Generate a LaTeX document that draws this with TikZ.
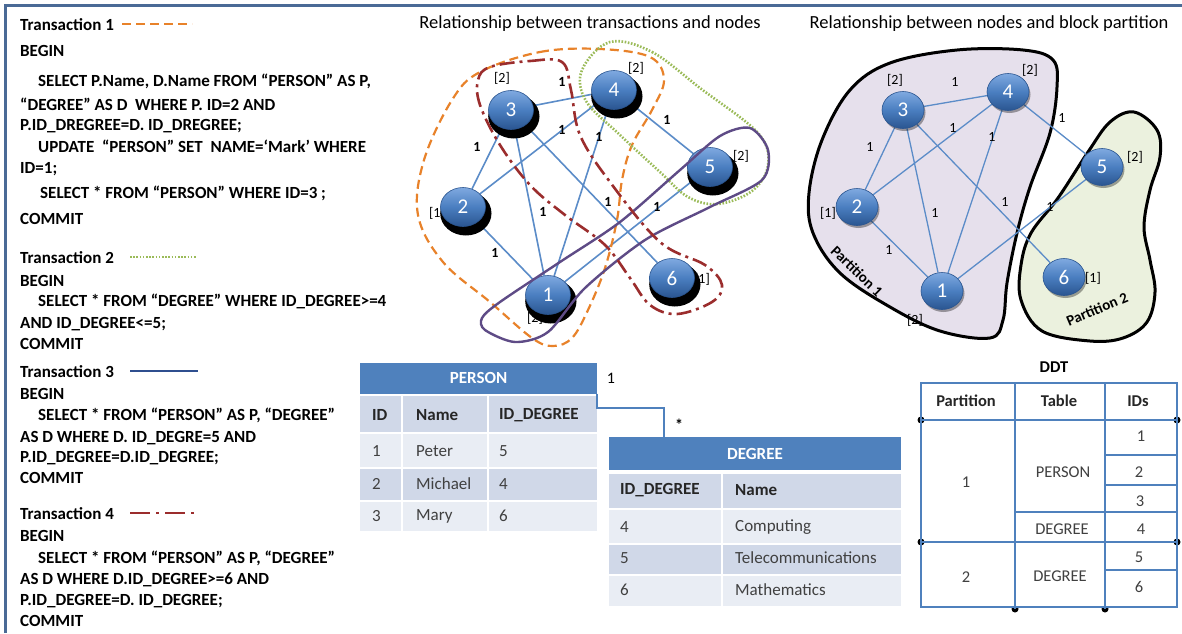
\documentclass[tikz,border=0pt]{standalone}
\usepackage{fontspec}
\setmainfont{Carlito}
\usetikzlibrary{shapes.geometric,shadows}
\definecolor{frameblue}{HTML}{4A6A96}
\definecolor{edgeblue}{HTML}{5B8CC8}
\definecolor{hdrblue}{HTML}{4F81BD}
\definecolor{rowdark}{HTML}{D0D8E8}
\definecolor{rowlight}{HTML}{E9EDF4}
\definecolor{tone}{HTML}{E8822A}
\definecolor{ttwo}{HTML}{9BBB59}
\definecolor{tthree}{HTML}{5E4B86}
\definecolor{tthreeleg}{HTML}{2F4F8F}
\definecolor{tfour}{HTML}{9B2D2D}
\definecolor{pone}{HTML}{E6E0EC}
\definecolor{ptwo}{HTML}{EBF1DE}
\definecolor{ntop}{HTML}{7FA9E0}
\definecolor{nmid}{HTML}{4A7EC0}
\definecolor{nbot}{HTML}{2A5590}
\definecolor{txtgray}{HTML}{404040}
\pgfdeclarelayer{paper}
\pgfdeclarelayer{blob}
\pgfdeclarelayer{bg}
\pgfsetlayers{paper,blob,bg,main}
\newcommand\txl[4]{\node[tx] (#1) at (#2,#3+6) {#4};}
\begin{document}
\begin{tikzpicture}[x=1pt,y=-1pt,
  tx/.style={anchor=base west, inner sep=0, font=\fontsize{17}{20}\selectfont\bfseries},
  titlestyle/.style={inner sep=0, font=\fontsize{18.5}{22}\selectfont},
  nodebase/.style={ellipse, inner sep=0, minimum width=45, minimum height=39, top color=ntop, bottom color=nbot, middle color=nmid, draw=nbot, line width=0.6, text=white, font=\fontsize{21}{21}\selectfont},
  ga/.style={nodebase, drop shadow={fill=black, opacity=1, shadow xshift=2.5pt, shadow yshift=-5.5pt, shadow scale=1.14}},
  gb/.style={nodebase, minimum width=42, minimum height=37, drop shadow={fill=black, opacity=0.35, shadow xshift=1.5pt, shadow yshift=-2.5pt}},
  edge/.style={edgeblue, line width=1.6},
  wlab/.style={inner sep=0, font=\fontsize{14}{14}\selectfont\bfseries},
  blab/.style={inner sep=0, font=\fontsize{14}{14}\selectfont},
  hullone/.style={tone, line width=2.2, dash pattern=on 9pt off 5pt},
  hulltwo/.style={ttwo, line width=2.6, dash pattern=on 1.6pt off 1.6pt},
  hullthree/.style={tthree, line width=2.4},
  hullfour/.style={tfour, line width=2.6, dash pattern=on 15pt off 5pt on 3pt off 5pt},
  hdr/.style={fill=hdrblue, text=white, inner sep=0, font=\fontsize{17}{20}\selectfont\bfseries},
  cell/.style={anchor=west, inner sep=0, text=txtgray, font=\fontsize{17}{20}\selectfont},
  cellb/.style={cell, text=black!85, font=\fontsize{17}{20}\selectfont\bfseries},
  ddt/.style={hdrblue, line width=2.6},
  ddtthin/.style={hdrblue, line width=2},
  dcell/.style={inner sep=0, text=txtgray, font=\fontsize{16.5}{20}\selectfont},
  dhead/.style={inner sep=0, text=black!85, font=\fontsize{16.5}{20}\selectfont\bfseries},
  conn/.style={hdrblue, line width=2},
  plab/.style={inner sep=0, font=\fontsize{15}{18}\selectfont\bfseries}
]
\useasboundingbox (0,0) rectangle (1182,633);
\begin{pgfonlayer}{paper}
\fill[white] (0,0) rectangle (1182,633);
\end{pgfonlayer}
\draw[frameblue, line width=3] (5,633) -- (5,5) -- (1182,5);

% ---------------- left text ----------------
\txl{t1}{20}{24}{Transaction 1}
\txl{t1a}{20}{50}{BEGIN}
\txl{t1b}{38}{80}{SELECT P.Name, D.Name FROM “PERSON” AS P,}
\txl{t1c}{20}{104}{“DEGREE” AS D\ \ WHERE P. ID=2 AND}
\txl{t1d}{20}{124}{P.ID\_DREGREE=D. ID\_DREGREE;}
\txl{t1e}{38}{146}{UPDATE\ \ “PERSON” SET\ \ NAME=‘Mark’ WHERE}
\txl{t1f}{20}{167}{ID=1;}
\txl{t1g}{40}{192}{SELECT * FROM “PERSON” WHERE ID=3 ;}
\txl{t1h}{20}{218}{COMMIT}
\txl{t2}{20}{257}{Transaction 2}
\txl{t2a}{20}{280}{BEGIN}
\txl{t2b}{38}{300}{SELECT * FROM “DEGREE” WHERE ID\_DEGREE>=4}
\txl{t2c}{20}{322}{AND ID\_DEGREE<=5;}
\txl{t2d}{20}{343}{COMMIT}
\txl{t3}{20}{371}{Transaction 3}
\txl{t3a}{20}{393}{BEGIN}
\txl{t3b}{38}{414}{SELECT * FROM “PERSON” AS P, “DEGREE”}
\txl{t3c}{20}{436}{AS D WHERE D. ID\_DEGRE=5 AND}
\txl{t3d}{20}{456}{P.ID\_DEGREE=D.ID\_DEGREE;}
\txl{t3e}{20}{477}{COMMIT}
\txl{t4}{20}{513}{Transaction 4}
\txl{t4a}{20}{535}{BEGIN}
\txl{t4b}{38}{557}{SELECT * FROM “PERSON” AS P, “DEGREE”}
\txl{t4c}{20}{578}{AS D WHERE D.ID\_DEGREE>=6 AND}
\txl{t4d}{20}{599}{P.ID\_DEGREE=D. ID\_DEGREE;}
\txl{t4e}{20}{620}{COMMIT}
\draw[hullone] (122,24) -- (192,24);
\draw[hulltwo, line width=1.6] (130,257) -- (196,257);
\draw[tthreeleg, line width=2] (130,371) -- (198,371);
\draw[hullfour, line width=2, dash pattern=on 20pt off 6pt on 3pt off 6pt] (130,513) -- (196,513);

% ---------------- titles ----------------
\node[titlestyle] (ttl1) at (590,24) {Relationship between\ transactions and nodes};
\node[titlestyle] (ttl2) at (989,24) {Relationship between nodes and block partition};

% ---------------- graph 1 ----------------
\node[blab] (q3) at (502,78) {[2]};
\node[blab] (q4) at (636,68) {[2]};
\node[blab] (q5) at (741,156) {[2]};
\node[blab] (q2) at (437,213) {[1]};
\node[blab] (q1) at (535,318) {[2]};
\node[blab] (q6) at (702,279) {[1]};
\node[ga] (a1) at (548,295) {1};
\node[ga] (a2) at (463,207) {2};
\node[ga] (a3) at (511,110) {3};
\node[ga] (a4) at (614,90) {4};
\node[ga] (a5) at (710,167) {5};
\node[ga] (a6) at (672,278) {6};
\begin{pgfonlayer}{bg}
\foreach \u/\v in {3/4,4/5,4/2,4/1,3/2,3/1,3/6,5/1,2/1}
  \draw[edge] (a\u) -- (a\v);
\end{pgfonlayer}
\foreach \n/\px/\py in {34/562/82,45/667/120,42/562/130,41/599/137,32/477/147,31/543/212,36/608/202,51/657/207,21/495/253}
  \node[wlab] (w\n) at (\px,\py) {1};

\draw[hullone] plot[smooth cycle, tension=0.6] coordinates {(480,72) (540,52) (600,49) (650,57) (664,80) (652,110) (632,145) (622,180) (617,220) (605,268) (588,310) (572,338) (553,346) (532,338) (490,302) (443,262) (418,215) (424,160) (452,100)};
\draw[hulltwo] plot[smooth cycle, tension=0.6] coordinates {(610,42) (652,52) (700,88) (758,133) (768,165) (752,191) (718,204) (688,197) (660,172) (620,135) (586,101) (582,70)};
\draw[hullthree] plot[smooth cycle, tension=0.5] coordinates {(482,318) (500,302) (560,262) (620,222) (680,170) (720,136) (750,128) (768,150) (762,180) (710,207) (645,240) (585,288) (548,332) (515,342) (485,330)};
\draw[hullfour] plot[smooth cycle, tension=0.6] coordinates {(490,67) (530,61) (562,62) (571,90) (580,135) (610,182) (660,242) (705,265) (722,285) (712,302) (677,314) (650,305) (630,278) (605,245) (565,215) (530,185) (500,145) (480,105) (478,80)};

% ---------------- graph 2 ----------------
\begin{pgfonlayer}{blob}
\filldraw[fill=pone, draw=black, line width=3] plot[smooth cycle, tension=0.6] coordinates {(890,63) (957,50) (1023,50) (1053,60) (1057,87) (1050,133) (1030,187) (1017,233) (1007,283) (1003,320) (990,338) (940,331) (890,307) (840,273) (813,233) (809,193) (822,140) (850,90)};
\filldraw[fill=ptwo, draw=black, line width=3] plot[smooth cycle, tension=0.6] coordinates {(1110,122) (1134,112) (1157,130) (1160,157) (1150,190) (1144,227) (1150,260) (1155,292) (1147,322) (1123,338) (1090,341) (1042,331) (1021,300) (1021,265) (1031,233) (1058,198) (1088,152)};
\end{pgfonlayer}
\node[blab] (r3) at (895,80) {[2]};
\node[blab] (r4) at (1030,70) {[2]};
\node[blab] (r5) at (1135,157) {[2]};
\node[blab] (r2) at (828,213) {[1]};
\node[blab] (r1) at (915,320) {[2]};
\node[blab] (r6) at (1093,278) {[1]};
\node[gb] (b1) at (942,291) {1};
\node[gb] (b2) at (857,207) {2};
\node[gb] (b3) at (903,110) {3};
\node[gb] (b4) at (1008,92) {4};
\node[gb] (b5) at (1102,167) {5};
\node[gb] (b6) at (1064,277) {6};
\begin{pgfonlayer}{bg}
\foreach \u/\v in {3/4,4/5,4/2,4/1,3/2,3/1,3/6,5/1,2/1}
  \draw[edge, line width=1.3] (b\u) -- (b\v);
\end{pgfonlayer}
\foreach \n/\px/\py in {34/955/82,45/1062/118,42/953/128,41/992/137,32/870/147,31/935/213,36/1005/202,51/1050/207,21/889/250}
  \node[blab] (v\n) at (\px,\py) {1};
\node[plab, rotate=-44] (pt1) at (857,271) {Partition 1};
\node[plab, rotate=23] (pt2) at (1097,309) {Partition 2};

% ---------------- PERSON table ----------------
\node[hdr, minimum width=237, minimum height=31] (person) at (478.5,378) {PERSON};
\fill[rowdark] (360,396) rectangle (597,432);
\fill[rowlight] (360,434) rectangle (597,467);
\fill[rowdark] (360,469) rectangle (597,500);
\fill[rowlight] (360,502) rectangle (597,531);
\draw[white, line width=2] (402,396) -- (402,531) (488,396) -- (488,531);
\node[cellb] (pc1) at (372,415) {ID};
\node[cellb] (pc2) at (416,415) {Name};
\node[cellb] (pc3) at (499,415) {ID\_DEGREE};
\node[cell] (p11) at (372,451) {1};
\node[cell] (p12) at (416,451) {Peter};
\node[cell] (p13) at (499,451) {5};
\node[cell] (p21) at (372,484) {2};
\node[cell] (p22) at (416,484) {Michael};
\node[cell] (p23) at (499,484) {4};
\node[cell] (p31) at (372,516) {3};
\node[cell] (p32) at (416,516) {Mary};
\node[cell] (p33) at (499,516) {6};

% ---------------- DEGREE table ----------------
\node[hdr, minimum width=292, minimum height=33] (degree) at (755,453.5) {DEGREE};
\fill[rowdark] (609,474) rectangle (901,508);
\fill[rowlight] (609,510) rectangle (901,543);
\fill[rowdark] (609,545) rectangle (901,574);
\fill[rowlight] (609,576) rectangle (901,606);
\draw[white, line width=2] (722,474) -- (722,606);
\node[cellb] (dc1) at (620,490) {ID\_DEGREE};
\node[cellb] (dc2) at (735,490) {Name};
\node[cell] (d41) at (620,527) {4};
\node[cell] (d42) at (735,527) {Computing};
\node[cell] (d51) at (620,558) {5};
\node[cell] (d52) at (735,558) {Telecommunications};
\node[cell] (d61) at (620,590) {6};
\node[cell] (d62) at (735,590) {Mathematics};

\draw[conn] (person.south east) -- ++(0,14) -| ([xshift=55pt]degree.north west);
\node[inner sep=0, font=\fontsize{16}{18}\selectfont] (one) at (611,378) {1};
\node[inner sep=0, font=\fontsize{16}{18}\selectfont\bfseries] (star) at (679,425) {*};

% ---------------- DDT ----------------
\node[inner sep=0, font=\fontsize{16.5}{20}\selectfont\bfseries] (ddtt) at (1054,367) {DDT};
\foreach \dx/\dy in {921/420,1177/420,921/542,1177/542,1015/609,1105/609}
  \fill[black] (\dx,\dy) circle (3.5);
\draw[ddt] (921,383) rectangle (1177,607);
\draw[ddt] (921,420) -- (1177,420);
\draw[ddt] (921,542) -- (1177,542);
\draw[ddt] (1015,383) -- (1015,609);
\draw[ddt] (1105,383) -- (1105,609);
\draw[ddtthin] (1105,455) -- (1177,455);
\draw[ddtthin] (1105,485) -- (1177,485);
\draw[ddtthin] (1015,512) -- (1177,512);
\draw[ddtthin] (1105,570) -- (1177,570);
\node[dhead] (h1) at (966,401) {Partition};
\node[dhead] (h2) at (1059,401) {Table};
\node[dhead] (h3) at (1138,401) {IDs};
\node[dcell] (i1) at (1141,436) {1};
\node[dcell] (i2) at (1139,472) {2};
\node[dcell] (i3) at (1140,501) {3};
\node[dcell] (i4) at (1141,529) {4};
\node[dcell] (i5) at (1139,557) {5};
\node[dcell] (i6) at (1139,587) {6};
\node[dcell] (tb1) at (1063,472) {PERSON};
\node[dcell] (tb2) at (1062,529) {DEGREE};
\node[dcell] (tb3) at (1060,576) {DEGREE};
\node[dcell] (pa1) at (966,482) {1};
\node[dcell] (pa2) at (966,577) {2};
\end{tikzpicture}
\end{document}
